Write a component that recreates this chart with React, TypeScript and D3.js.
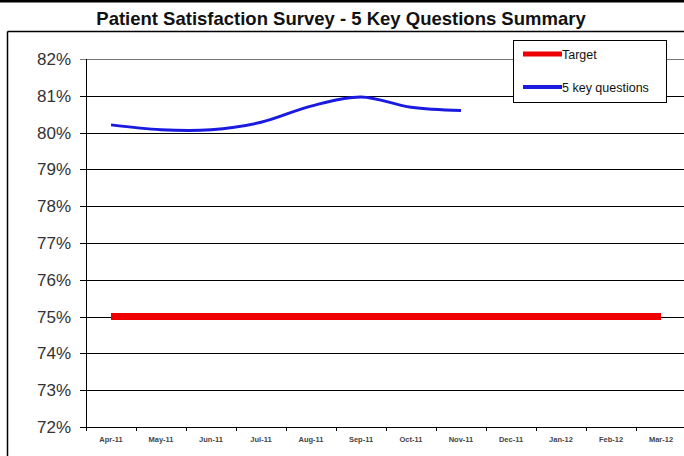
import React from "react";
import * as d3 from "d3";

const months = ["Apr-11","May-11","Jun-11","Jul-11","Aug-11","Sep-11","Oct-11","Nov-11","Dec-11","Jan-12","Feb-12","Mar-12"];
const keyQuestions = [80.21, 80.08, 80.08, 80.28, 80.72, 80.97, 80.69, 80.6];
const target = [75,75,75,75,75,75,75,75,75,75,75,75];
const yTicks = [72,73,74,75,76,77,78,79,80,81,82];
const legendItems = [
  { label: "Target", color: "#ee0000" },
  { label: "5 key questions", color: "#1a1ae0" },
];

export default function App() {
  const W = 684, H = 456;
  const left = 86, right = 686, top = 59, bottom = 427;
  const x = d3.scaleBand<string>().domain(months).range([left, right]);
  const y = d3.scaleLinear().domain([72, 82]).range([bottom, top]);
  const cx = (m: string) => (x(m) as number) + x.bandwidth() / 2;

  const blueLine = d3.line<number>()
    .x((_, i) => cx(months[i]))
    .y((d) => y(d))
    .curve(d3.curveCatmullRom.alpha(0.5));
  const redLine = d3.line<number>()
    .x((_, i) => cx(months[i]))
    .y((d) => y(d));

  const tickX = months.map((m) => x(m) as number).concat([right]);

  return (
    <svg width={W} height={H} style={{ position: "absolute", left: 0, top: 0, background: "#fff" }}
      fontFamily="Arial, 'Liberation Sans', sans-serif">
      <rect x={0} y={0} width={W} height={H} fill="#fff" />
      {/* top thick line */}
      <line x1={0} x2={W} y1={1} y2={1} stroke="#000" strokeWidth={3} />
      {/* title */}
      <text x={341} y={25} textAnchor="middle" fontSize={18.5} fontWeight="bold" fill="#111">
        Patient Satisfaction Survey - 5 Key Questions Summary
      </text>
      {/* chart frame */}
      <line x1={7.5} x2={W} y1={31.5} y2={31.5} stroke="#000" strokeWidth={1.5} />
      <line x1={7.5} x2={7.5} y1={31.5} y2={H} stroke="#000" strokeWidth={1.5} />

      {/* gridlines & y ticks */}
      {yTicks.map((t) => (
        <g key={t}>
          <line x1={left - 6} x2={W} y1={Math.round(y(t)) + 0.5} y2={Math.round(y(t)) + 0.5}
            stroke={t === 82 ? "#777" : "#000"} strokeWidth={1} />
          <text x={71} y={y(t) + 6} textAnchor="end" fontSize={17} fill="#333">{t}%</text>
        </g>
      ))}
      {/* y axis */}
      <line x1={left + 0.5} x2={left + 0.5} y1={top} y2={bottom + 4} stroke="#000" strokeWidth={1} />
      {/* x ticks */}
      {tickX.map((tx, i) => (
        <line key={i} x1={tx + 0.5} x2={tx + 0.5} y1={bottom} y2={bottom + 4} stroke="#000" strokeWidth={1} />
      ))}
      {months.map((m) => (
        <text key={m} x={cx(m)} y={bottom + 15} textAnchor="middle" fontSize={7.5} fontWeight="bold" fill="#444">{m}</text>
      ))}

      {/* target */}
      <path d={redLine(target) as string} fill="none" stroke="#ee0000" strokeWidth={7} strokeLinecap="butt" />
      {/* key questions */}
      <path d={blueLine(keyQuestions) as string} fill="none" stroke="#1a1ae0" strokeWidth={3} strokeLinejoin="round" />

      {/* legend */}
      <rect x={513.5} y={40.5} width={153} height={62} fill="#fff" stroke="#000" strokeWidth={1} />
      {legendItems.map((it, i) => (
        <g key={it.label}>
          <line x1={523} x2={562} y1={54 + i * 33} y2={54 + i * 33} stroke={it.color} strokeWidth={i === 0 ? 5 : 4} />
          <text x={562} y={58.5 + i * 33} fontSize={12.5} fill="#111">{it.label}</text>
        </g>
      ))}
    </svg>
  );
}
